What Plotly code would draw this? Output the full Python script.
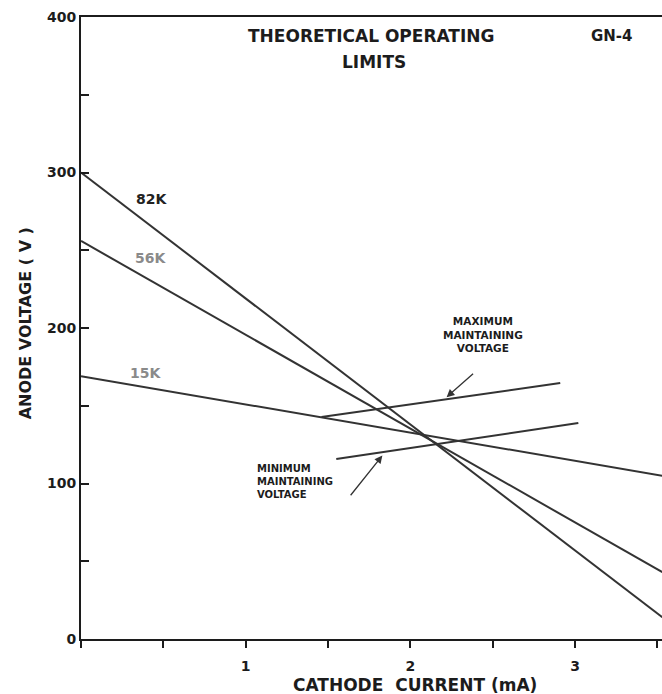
import plotly.graph_objects as go

# ---- data ----
load_names = ["82K", "56K", "15K"]
load_current = [[0, 3.53], [0, 3.53], [0, 3.53]]          # mA
load_voltage = [[300, 14], [256, 43], [169, 105]]         # V

max_maint_current = [1.46, 2.91]
max_maint_voltage = [142.8, 164.6]
min_maint_current = [1.55, 3.02]
min_maint_voltage = [115.8, 138.9]

y_tick_vals = [0, 100, 200, 300, 400]
y_tick_text = ["0", "100", "200", "300", "400"]
x_tick_vals = [1, 2, 3]
x_tick_text = ["1", "2", "3"]

FONT = "DejaVu Sans"
INK = "#1c1c1c"
LINE = "#333333"

fig = go.Figure()

for cur, volt in zip(load_current, load_voltage):
    fig.add_trace(go.Scatter(x=cur, y=volt, mode="lines",
                             line=dict(color=LINE, width=2), showlegend=False,
                             hoverinfo="skip"))

fig.add_trace(go.Scatter(x=max_maint_current, y=max_maint_voltage, mode="lines",
                         line=dict(color=LINE, width=2), showlegend=False))
fig.add_trace(go.Scatter(x=min_maint_current, y=min_maint_voltage, mode="lines",
                         line=dict(color=LINE, width=2), showlegend=False))

ann = []
# load-line labels
label_pos = {"82K": (0.43, 283, "#222222"), "56K": (0.42, 245, "#8a8a8a"), "15K": (0.39, 171, "#8a8a8a")}
for name in load_names:
    x, y, c = label_pos[name]
    ann.append(dict(x=x, y=y, xref="x", yref="y", text="<b>%s</b>" % name, showarrow=False,
                    font=dict(family=FONT, size=14, color=c), xanchor="center", yanchor="middle"))

# titles
ann.append(dict(x=1.76, y=388, xref="x", yref="y", text="<b>THEORETICAL OPERATING</b>",
                showarrow=False, font=dict(family=FONT, size=17, color=INK),
                xanchor="center", yanchor="middle"))
ann.append(dict(x=1.78, y=371, xref="x", yref="y", text="<b>LIMITS</b>",
                showarrow=False, font=dict(family=FONT, size=17, color=INK),
                xanchor="center", yanchor="middle"))
ann.append(dict(x=3.225, y=388, xref="x", yref="y", text="<b>GN-4</b>",
                showarrow=False, font=dict(family=FONT, size=15, color=INK),
                xanchor="center", yanchor="middle"))

# maximum / minimum labels
ann.append(dict(x=2.44, y=196, xref="x", yref="y",
                text="<b>MAXIMUM<br>MAINTAINING<br>VOLTAGE</b>", showarrow=False,
                font=dict(family=FONT, size=10.5, color=INK), align="center",
                xanchor="center", yanchor="middle"))
ann.append(dict(x=1.055, y=101, xref="x", yref="y",
                text="<b>MINIMUM<br>MAINTAINING<br>VOLTAGE</b>", showarrow=False,
                font=dict(family=FONT, size=10, color=INK), align="left",
                xanchor="left", yanchor="middle"))

# arrows
ann.append(dict(x=2.22, y=155.5, ax=2.39, ay=171.5, xref="x", yref="y", axref="x", ayref="y",
                text="", showarrow=True, arrowhead=2, arrowsize=1.2, arrowwidth=1.3,
                arrowcolor=LINE))
ann.append(dict(x=1.83, y=118, ax=1.63, ay=91.5, xref="x", yref="y", axref="x", ayref="y",
                text="", showarrow=True, arrowhead=2, arrowsize=1.2, arrowwidth=1.3,
                arrowcolor=LINE))

# axis titles
ann.append(dict(x=2.03, y=0, xref="x", yref="paper", yshift=-46,
                text="<b>CATHODE  CURRENT (mA)</b>", showarrow=False,
                font=dict(family=FONT, size=17, color=INK), xanchor="center", yanchor="middle"))
ann.append(dict(x=0, y=203, xref="paper", yref="y", xshift=-56,
                text="<b>ANODE VOLTAGE ( V )</b>", showarrow=False, textangle=-90,
                font=dict(family=FONT, size=16, color=INK), xanchor="center", yanchor="middle"))

fig.update_layout(
    width=662, height=694,
    margin=dict(l=81, r=0, t=17, b=55, pad=0, autoexpand=False),
    paper_bgcolor="white", plot_bgcolor="white",
    annotations=ann,
    showlegend=False,
    xaxis=dict(range=[0, 3.528], showgrid=False, zeroline=False, automargin=False,
               showline=True, linecolor=INK, linewidth=2, mirror=True,
               tickvals=x_tick_vals, ticktext=x_tick_text,
               ticks="outside", ticklen=7, tickwidth=1.5, tickcolor=INK,
               minor=dict(dtick=0.5, tick0=0, ticks="outside", ticklen=7,
                          tickwidth=1.5, tickcolor=INK, showgrid=False),
               tickfont=dict(family=FONT, size=14, color=INK, weight="bold"),
               ticklabelstandoff=6),
    yaxis=dict(range=[0, 400], showgrid=False, zeroline=False, automargin=False,
               showline=True, linecolor=INK, linewidth=2, mirror=False,
               tickvals=y_tick_vals, ticktext=y_tick_text,
               ticks="inside", ticklen=8, tickwidth=1.5, tickcolor=INK,
               minor=dict(dtick=50, tick0=0, ticks="inside", ticklen=8,
                          tickwidth=1.5, tickcolor=INK, showgrid=False),
               tickfont=dict(family=FONT, size=14, color=INK, weight="bold")),
)

fig.write_html("out.html", config={"displayModeBar": False},
               post_script="document.body.style.margin='0';document.body.style.overflow='hidden';")
